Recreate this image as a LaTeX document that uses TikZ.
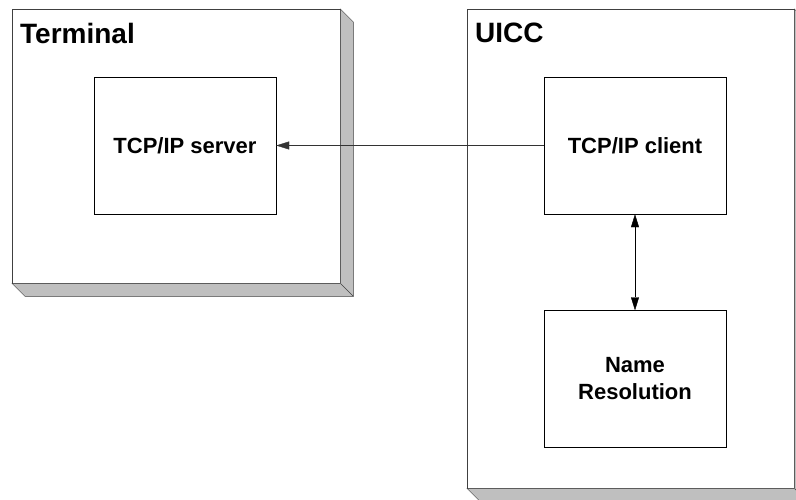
\documentclass[tikz,border=0pt]{standalone}
\usepackage{fontspec}
\setmainfont{Liberation Sans}
\usetikzlibrary{arrows.meta}

\begin{document}
\begin{tikzpicture}[x=1pt, y=-1pt,
		device/.style = {shape=rectangle, draw=black!75, fill=white, inner sep=0pt, anchor=north west},
		depth/.style = {draw=black!75, fill=black!25, line join=miter},
		title/.style = {inner sep=0pt, anchor=base west, font=\bfseries\fontsize{28}{30}\selectfont},
		part/.style = {shape=rectangle, draw, align=center, inner sep=0pt,
			minimum width=182pt, minimum height=137pt, font=\bfseries\fontsize{22}{27}\selectfont},
		tip/.tip = {Triangle[length=13pt, width=8pt]},
		link/.style = {-tip},
		twoway/.style = {tip-tip}]
	\useasboundingbox (0,0) rectangle (796,499);
	\clip (0,0) rectangle (796,499);
	% outer devices
	\node[device, minimum width=328pt, minimum height=274pt] (term) at (12,9) {};
	\node[device, minimum width=327pt, minimum height=479pt] (uicc) at (467,9) {};
	\foreach \dev in {term, uicc} {
		\draw[depth] (\dev.north east) -- ++(13,13) |- ([shift={(13,13)}]\dev.south west)
			-- (\dev.south west) -- (\dev.south east) -- cycle;
		\draw[draw=black!75] (\dev.south east) -- ++(13,13);
	}
	\node[title] (termname) at (20,43) {Terminal};
	\node[title] (uiccname) at (475,42) {UICC};
	% inner parts
	\node[part] (server) at (185,145.5) {TCP/IP server};
	\node[part] (client) at (635,145.5) {TCP/IP client};
	\node[part] (resolver) at (635,379) {Name\\Resolution};
	% links
	\draw[link, draw=black!80] (client.west) -- (server.east);
	\draw[twoway] (client.south) -- (resolver.north);
\end{tikzpicture}
\end{document}
